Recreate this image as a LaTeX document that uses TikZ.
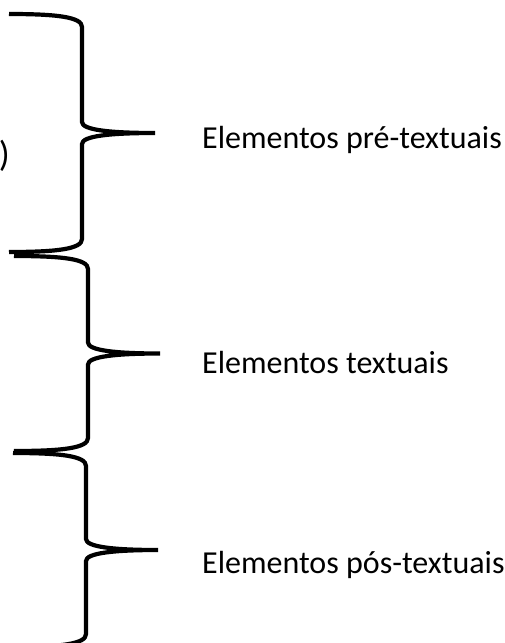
\documentclass[tikz,border=0pt]{standalone}
\usepackage{fontspec}
\setmainfont{Carlito}
\usetikzlibrary{positioning}

% curly brace opening to the right: left x, top y, spine x, tip x, bottom y
\newcommand{\wordbrace}[5]{%
	\draw[bracestroke] (#1,#2) .. controls ({#3-25},#2) and (#3,{#2+3}) .. (#3,{#2+13})
		-- (#3,{(#2+#5)/2-11}) .. controls (#3,{(#2+#5)/2-3}) and ({#3+28},{(#2+#5)/2}) .. (#4,{(#2+#5)/2})
		.. controls ({#3+28},{(#2+#5)/2}) and (#3,{(#2+#5)/2+3}) .. (#3,{(#2+#5)/2+11})
		-- (#3,{#5-13}) .. controls (#3,{#5-3}) and ({#3-25},#5) .. (#1,#5);%
}

\begin{document}
	\begin{tikzpicture}[x=1pt,y=-1pt,
			bracestroke/.style={line width=4.2pt},
			label/.style={anchor=base west,inner sep=0pt,font=\fontsize{32}{38}\selectfont}]
		\useasboundingbox (0,0) rectangle (504,643);
		
		\wordbrace{9}{14}{82}{155}{252}
		\wordbrace{14}{256}{88}{160}{451}
		\wordbrace{13}{453}{86}{158}{647}
		
		\node [label] at (202,148) (pre) {Elementos pré-textuais};
		\node [label] at (202,373) (txt) {Elementos textuais};
		\node [label] at (202,573) (pos) {Elementos pós-textuais};
		\node [label,anchor=base east,font=\fontsize{36}{42}\selectfont] at (10,166) (paren) {)};
	\end{tikzpicture}
\end{document}
